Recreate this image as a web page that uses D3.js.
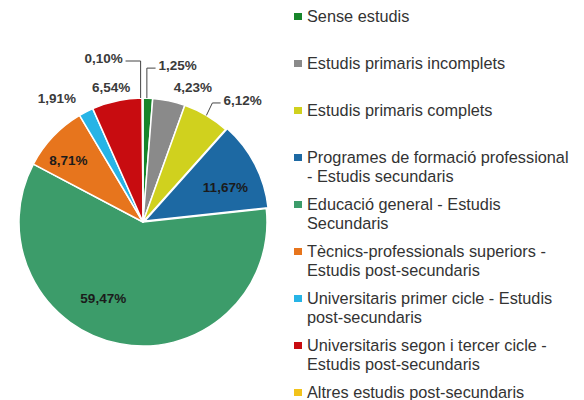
<!DOCTYPE html>
<html>
<head>
<meta charset="utf-8">
<script src="https://cdn.jsdelivr.net/npm/d3@7"></script>
<style>
  body { margin: 0; background: #fff; }
  svg { display: block; }
  text { font-family: "Liberation Sans", Arial, sans-serif; }
</style>
</head>
<body>
<svg id="chart" width="584" height="400"></svg>
<script>
// data (clockwise from 12 o'clock)
const categories = [
  ["Sense estudis"],
  ["Estudis primaris incomplets"],
  ["Estudis primaris complets"],
  ["Programes de formació professional", "- Estudis secundaris"],
  ["Educació general - Estudis", "Secundaris"],
  ["Tècnics-professionals superiors -", "Estudis post-secundaris"],
  ["Universitaris primer cicle - Estudis", "post-secundaris"],
  ["Universitaris segon i tercer cicle -", "Estudis post-secundaris"],
  ["Altres estudis post-secundaris"]
];
const values = [1.25, 4.23, 6.12, 11.67, 59.47, 8.71, 1.91, 6.54, 0.10];
const valueLabels = ["1,25%", "4,23%", "6,12%", "11,67%", "59,47%", "8,71%", "1,91%", "6,54%", "0,10%"];
const colors = ["#17852a", "#8a8a8a", "#d0d11e", "#1d69a3", "#3c9c6a", "#e7751d", "#27b4e6", "#c80c10", "#f2c31b"];

// label placement: inside or outside, plus small nudges
const labelInside = [false, false, false, true, true, true, false, false, false];
const labelNudge = [[29, -10], [20, 9], [27, 5], [3, 11], [-23, -7], [-10, 4], [-21, 7], [-2, 9], [-39, -17]];
const hasLeader = [true, false, true, false, false, false, false, false, true];

const svg = d3.select("#chart");
const cx = 143, cy = 222, radius = 124;

const g = svg.append("g")
  .attr("transform", `translate(${cx}, ${cy})`);

const pie = d3.pie()
  .value(d => d)
  .sort(null);

const arc = d3.arc()
  .innerRadius(0)
  .outerRadius(radius);

const edgeArc = d3.arc().innerRadius(radius).outerRadius(radius);
const inArc = d3.arc().innerRadius(radius * 0.72).outerRadius(radius * 0.72);
const outArc = d3.arc().innerRadius(radius + 18).outerRadius(radius + 18);

const arcs = pie(values);

// slices (blue one pulled out a touch)
g.selectAll(".slice")
  .data(arcs)
  .enter()
  .append("path")
  .attr("class", "slice")
  .attr("d", arc)
  .attr("fill", (d, i) => colors[i])
  .attr("stroke", "#fff")
  .attr("stroke-width", 1.5)
  .attr("stroke-linejoin", "round")
  .attr("transform", (d, i) => {
    if (i !== 3) return null;
    const mid = (d.startAngle + d.endAngle) / 2;
    return `translate(${Math.sin(mid) * 2}, ${-Math.cos(mid) * 2})`;
  });

// label positions (text baseline)
const labelPos = arcs.map((d, i) => {
  const c = labelInside[i] ? inArc.centroid(d) : outArc.centroid(d);
  return [c[0] + labelNudge[i][0], c[1] + labelNudge[i][1]];
});

// leader lines
const leaderData = arcs.map((d, i) => ({ d, i })).filter(o => hasLeader[o.i]);
g.selectAll(".leader")
  .data(leaderData)
  .enter()
  .append("polyline")
  .attr("class", "leader")
  .attr("fill", "none")
  .attr("stroke", "#444")
  .attr("stroke-width", 1)
  .attr("points", o => {
    const e = edgeArc.centroid(o.d);
    const p = labelPos[o.i];
    const right = p[0] > e[0];
    const endX = right ? p[0] - 22 : p[0] + 22;
    const elbowX = o.i === 2 ? e[0] + 6 : (right ? e[0] - 1 : e[0] - 2);
    const y = p[1] - 2;
    return [[e[0] + (o.i === 2 ? 0 : elbowX - e[0]), e[1]], [elbowX, y], [endX, y]].map(q => q.join(",")).join(" ");
  });

// value labels
g.selectAll(".val")
  .data(arcs)
  .enter()
  .append("text")
  .attr("class", "val")
  .attr("x", (d, i) => labelPos[i][0])
  .attr("y", (d, i) => labelPos[i][1])
  .attr("text-anchor", "middle")
  .style("font-size", "13.5px")
  .style("font-weight", "bold")
  .style("fill", (d, i) => labelInside[i] ? "#1b1b1b" : "#3a3a3a")
  .text((d, i) => valueLabels[i]);

// legend
const legendY = d3.scaleLinear().domain([0, categories.length - 1]).range([16, 392]);

const legend = svg.append("g").attr("class", "legend");

const items = legend.selectAll(".legend-item")
  .data(categories)
  .enter()
  .append("g")
  .attr("class", "legend-item")
  .attr("transform", (d, i) => `translate(294, ${legendY(i)})`);

items.append("rect")
  .attr("x", 0)
  .attr("y", -3)
  .attr("width", 8)
  .attr("height", 7)
  .attr("fill", (d, i) => colors[i]);

items.append("text")
  .attr("x", 13)
  .attr("y", 6)
  .style("font-size", "16.3px")
  .style("fill", "#333")
  .selectAll("tspan")
  .data(d => d)
  .enter()
  .append("tspan")
  .attr("x", 13)
  .attr("dy", (d, i) => i === 0 ? 0 : 19)
  .text(d => d);
</script>
</body>
</html>
